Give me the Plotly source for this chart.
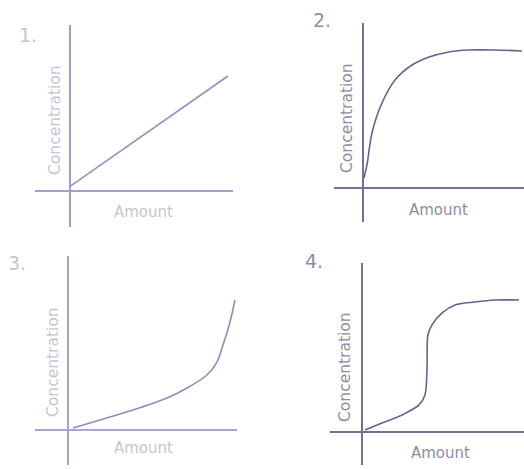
import plotly.graph_objects as go

W, H = 524, 469

# ---- data (arbitrary units: amount vs concentration) ----
amount1 = [0.0, 10.0]
conc1 = [0.4, 10.0]

amount2 = [0.06, 0.25, 0.57, 1.20, 2.03, 3.10, 4.18, 5.44, 6.71, 8.35, 10.06]
conc2 = [0.72, 1.67, 4.0, 6.16, 7.83, 8.91, 9.49, 9.86, 10.0, 10.0, 9.93]

amount3 = [0.30, 1.92, 3.89, 5.93, 7.13, 8.32, 8.92, 9.28, 9.70, 10.0]
conc3 = [0.15, 0.77, 1.54, 2.46, 3.23, 4.23, 5.23, 6.54, 8.31, 10.0]

amount4 = [0.19, 1.27, 2.55, 3.63, 4.01, 4.14, 4.20, 4.46, 5.10, 5.92, 7.20, 8.47, 10.0]
conc4 = [0.15, 0.68, 1.29, 2.05, 2.80, 4.85, 7.35, 8.11, 9.02, 9.62, 9.85, 10.0, 10.0]

panel_labels = ["1.", "2.", "3.", "4."]
x_title = "Amount"
y_title = "Concentration"

# ---- layout geometry (pixels) ----
# (y-axis px, x-axis py, left px, right px, top py, bottom py, px/unit x, px/unit y)
geom = [
    (70, 191, 35, 233, 25, 227, 15.8, 11.5),
    (363, 188, 334, 524, 23, 222, 15.8, 13.8),
    (68, 430, 35, 237, 256, 465, 16.7, 13.0),
    (362, 432, 330, 524, 263, 465, 15.7, 13.2),
]
line_colors = ["#8f93c2", "#62668e", "#8a8ebc", "#62668e"]
axis_colors = ["#9da1d0", "#6f7396", "#a3a7d2", "#6f7396"]
text_colors = ["#c4c6d8", "#8c8ea6", "#c4c6d8", "#8c8ea6"]

series = [(amount1, conc1), (amount2, conc2), (amount3, conc3), (amount4, conc4)]

fig = go.Figure()
for i, ((ax, ay), g) in enumerate(zip(series, geom)):
    x0, y0, xl, xr, yt, yb, sx, sy = g
    n = "" if i == 0 else str(i + 1)
    fig.add_trace(go.Scatter(
        x=ax, y=ay, mode="lines",
        line=dict(color=line_colors[i], width=1.6, shape="spline", smoothing=0.9),
        xaxis="x" + n, yaxis="y" + n, showlegend=False, hoverinfo="skip"))
    xr_range = [(xl - x0) / sx, (xr - x0) / sx]
    yr_range = [(y0 - yb) / sy, (y0 - yt) / sy]
    common = dict(showgrid=False, showticklabels=False, ticks="", zeroline=True,
                  zerolinecolor=axis_colors[i], zerolinewidth=1.6, showline=False,
                  fixedrange=True)
    fig.layout["xaxis" + n] = dict(domain=[xl / W, xr / W], range=xr_range,
                                   anchor="y" + n, **common)
    fig.layout["yaxis" + n] = dict(domain=[1 - yb / H, 1 - yt / H], range=yr_range,
                                   anchor="x" + n, **common)

# labels (pixel positions)
num_pos = [(28, 35), (322, 20), (17, 263), (314, 261)]
ytitle_pos = [(55, 120), (347, 118), (53, 362), (345, 367)]
xtitle_pos = [(143, 212), (438, 210), (143, 448), (440, 453)]
ann = []
for i in range(4):
    base = dict(xref="paper", yref="paper", showarrow=False,
                xanchor="center", yanchor="middle")
    px, py = num_pos[i]
    ann.append(dict(x=px / W, y=1 - py / H, text=panel_labels[i],
                    font=dict(size=19, color=text_colors[i], family="DejaVu Sans"), **base))
    px, py = ytitle_pos[i]
    ann.append(dict(x=px / W, y=1 - py / H, text=y_title, textangle=-90,
                    font=dict(size=15.5, color=text_colors[i], family="DejaVu Sans"), **base))
    px, py = xtitle_pos[i]
    ann.append(dict(x=px / W, y=1 - py / H, text=x_title,
                    font=dict(size=15, color=text_colors[i], family="DejaVu Sans"), **base))

fig.update_layout(width=W, height=H, autosize=False,
                  margin=dict(l=0, r=0, t=0, b=0),
                  paper_bgcolor="white", plot_bgcolor="white",
                  annotations=ann)

fig.write_html("out.html", config={"displayModeBar": False},
               post_script="document.body.style.margin='0';document.body.style.overflow='hidden';")
